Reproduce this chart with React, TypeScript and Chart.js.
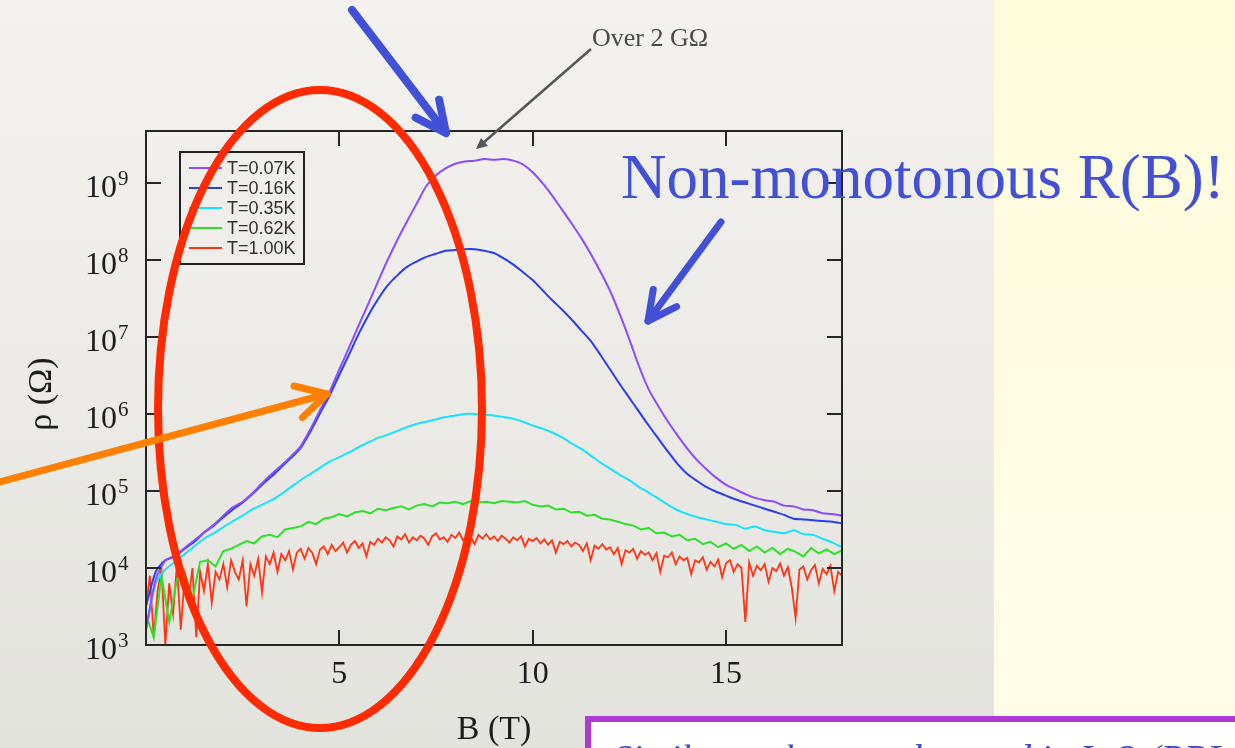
import { useEffect, useRef } from "react";
import { Chart, registerables } from "chart.js";

Chart.register(...registerables);

const W = 1235;
const H = 748;

// Magnetic field B (T) sampling grids
const fieldCoarse = [
  0, 0.25, 0.5, 0.75, 1, 1.25, 1.5, 1.75, 2, 2.25, 2.5, 2.75, 3, 3.25, 3.5, 3.75,
  4, 4.25, 4.5, 4.75, 5, 5.25, 5.5, 5.75, 6, 6.25, 6.5, 6.75, 7, 7.25, 7.5, 7.75,
  8, 8.25, 8.5, 8.75, 9, 9.25, 9.5, 9.75, 10, 10.25, 10.5, 10.75, 11, 11.25, 11.5, 11.75,
  12, 12.25, 12.5, 12.75, 13, 13.25, 13.5, 13.75, 14, 14.25, 14.5, 14.75, 15, 15.25, 15.5, 15.75,
  16, 16.25, 16.5, 16.75, 17, 17.25, 17.5, 17.75, 18,
];
const fieldFine = [
  0, 0.2, 0.4, 0.6, 0.8, 1, 1.2, 1.4, 1.6, 1.8, 2, 2.2, 2.4, 2.6, 2.8, 3, 3.2, 3.4, 3.6, 3.8,
  4, 4.2, 4.4, 4.6, 4.8, 5, 5.2, 5.4, 5.6, 5.8, 6, 6.2, 6.4, 6.6, 6.8, 7, 7.2, 7.4, 7.6, 7.8,
  8, 8.2, 8.4, 8.6, 8.8, 9, 9.2, 9.4, 9.6, 9.8, 10, 10.2, 10.4, 10.6, 10.8, 11, 11.2, 11.4, 11.6, 11.8,
  12, 12.2, 12.4, 12.6, 12.8, 13, 13.2, 13.4, 13.6, 13.8, 14, 14.2, 14.4, 14.6, 14.8, 15, 15.2, 15.4, 15.6, 15.8,
  16, 16.2, 16.4, 16.6, 16.8, 17, 17.2, 17.4, 17.6, 17.8, 18,
];
const fieldDense = [
  0, 0.1, 0.2, 0.3, 0.4, 0.5, 0.6, 0.7, 0.8, 0.9,
  1, 1.1, 1.2, 1.3, 1.4, 1.5, 1.6, 1.7, 1.8, 1.9,
  2, 2.1, 2.2, 2.3, 2.4, 2.5, 2.6, 2.7, 2.8, 2.9,
  3, 3.1, 3.2, 3.3, 3.4, 3.5, 3.6, 3.7, 3.8, 3.9,
  4, 4.1, 4.2, 4.3, 4.4, 4.5, 4.6, 4.7, 4.8, 4.9,
  5, 5.1, 5.2, 5.3, 5.4, 5.5, 5.6, 5.7, 5.8, 5.9,
  6, 6.1, 6.2, 6.3, 6.4, 6.5, 6.6, 6.7, 6.8, 6.9,
  7, 7.1, 7.2, 7.3, 7.4, 7.5, 7.6, 7.7, 7.8, 7.9,
  8, 8.1, 8.2, 8.3, 8.4, 8.5, 8.6, 8.7, 8.8, 8.9,
  9, 9.1, 9.2, 9.3, 9.4, 9.5, 9.6, 9.7, 9.8, 9.9,
  10, 10.1, 10.2, 10.3, 10.4, 10.5, 10.6, 10.7, 10.8, 10.9,
  11, 11.1, 11.2, 11.3, 11.4, 11.5, 11.6, 11.7, 11.8, 11.9,
  12, 12.1, 12.2, 12.3, 12.4, 12.5, 12.6, 12.7, 12.8, 12.9,
  13, 13.1, 13.2, 13.3, 13.4, 13.5, 13.6, 13.7, 13.8, 13.9,
  14, 14.1, 14.2, 14.3, 14.4, 14.5, 14.6, 14.7, 14.8, 14.9,
  15, 15.1, 15.2, 15.3, 15.4, 15.5, 15.6, 15.7, 15.8, 15.9,
  16, 16.1, 16.2, 16.3, 16.4, 16.5, 16.6, 16.7, 16.8, 16.9,
  17, 17.1, 17.2, 17.3, 17.4, 17.5, 17.6, 17.7, 17.8, 17.9,
  18,
];

// Resistivity as log10(ρ / Ω) for each temperature
const logRhoT007 = [
  3.2, 3.85, 4.1, 4.16, 4.26, 4.36, 4.46, 4.56, 4.68, 4.79, 4.86, 4.97, 5.1, 5.22, 5.33, 5.45,
  5.58, 5.8, 6.05, 6.29, 6.58, 6.86, 7.15, 7.43, 7.72, 8.0, 8.26, 8.5, 8.73, 8.96, 9.1, 9.19,
  9.25, 9.28, 9.29, 9.31, 9.3, 9.31, 9.29, 9.24, 9.14, 9.0, 8.84, 8.66, 8.48, 8.29, 8.08, 7.85,
  7.6, 7.3, 6.97, 6.62, 6.32, 6.1, 5.9, 5.72, 5.55, 5.4, 5.28, 5.17, 5.08, 5.02, 4.96, 4.91,
  4.88, 4.86, 4.81, 4.8, 4.76, 4.75, 4.71, 4.7, 4.68,
];
const logRhoT016 = [
  3.5, 3.95, 4.1, 4.15, 4.25, 4.34, 4.46, 4.55, 4.66, 4.76, 4.85, 4.96, 5.08, 5.19, 5.31, 5.43,
  5.56, 5.77, 6.01, 6.24, 6.51, 6.77, 7.04, 7.28, 7.49, 7.67, 7.8, 7.91, 7.98, 8.04, 8.08, 8.12,
  8.13, 8.14, 8.14, 8.12, 8.09, 8.02, 7.94, 7.84, 7.74, 7.61, 7.48, 7.36, 7.23, 7.09, 6.95, 6.77,
  6.58, 6.39, 6.21, 6.03, 5.85, 5.68, 5.51, 5.35, 5.22, 5.13, 5.05, 4.99, 4.94, 4.89, 4.85, 4.81,
  4.77, 4.73, 4.69, 4.64, 4.63, 4.62, 4.61, 4.6, 4.58,
];
const logRhoT035 = [
  3.2, 3.8, 3.98, 4.08, 4.18, 4.28, 4.38, 4.45, 4.53, 4.61, 4.68, 4.76, 4.82, 4.88, 4.96, 5.05,
  5.14, 5.22, 5.3, 5.38, 5.44, 5.5, 5.57, 5.63, 5.69, 5.73, 5.78, 5.83, 5.87, 5.9, 5.93, 5.96,
  5.98, 6.0, 6.0, 5.99, 5.98, 5.96, 5.94, 5.9, 5.85, 5.81, 5.76, 5.7, 5.62, 5.55, 5.46, 5.37,
  5.29, 5.21, 5.14, 5.05, 4.98, 4.9, 4.82, 4.75, 4.7, 4.66, 4.63, 4.6, 4.57, 4.56, 4.51, 4.54,
  4.49, 4.47, 4.45, 4.49, 4.44, 4.43, 4.38, 4.33, 4.27,
];
const logRhoT062 = [
  3.4, 3.1, 3.9, 3.3, 3.85, 3.95, 3.6, 4.08, 4.1, 4.02, 4.22, 4.25, 4.3, 4.35, 4.32, 4.41, 4.43, 4.4, 4.5, 4.52,
  4.54, 4.6, 4.57, 4.64, 4.66, 4.7, 4.67, 4.72, 4.74, 4.71, 4.77, 4.75, 4.78, 4.8, 4.76, 4.81, 4.83, 4.8, 4.85, 4.84,
  4.86, 4.83, 4.87, 4.85, 4.86, 4.84, 4.87, 4.86, 4.85, 4.87, 4.82, 4.8, 4.81, 4.76, 4.77, 4.72, 4.73, 4.68, 4.69, 4.64,
  4.63, 4.6, 4.57, 4.55, 4.5, 4.52, 4.45, 4.46, 4.41, 4.43, 4.36, 4.38, 4.31, 4.34, 4.27, 4.32, 4.25, 4.3, 4.22, 4.28,
  4.2, 4.26, 4.18, 4.25, 4.21, 4.15, 4.26, 4.19, 4.24, 4.18, 4.23,
];
const logRhoT100 = [
  3.5, 3.9, 3.1, 3.7, 4.0, 3.0, 3.8, 3.4, 4.05, 3.2,
  3.9, 3.6, 4.0, 3.1, 3.95, 3.7, 4.05, 3.55, 3.95, 3.85,
  4.05, 3.75, 4.1, 3.95, 3.85, 4.1, 3.5, 4.05, 3.9, 4.12,
  3.68, 4.15, 4.05, 4.2, 3.95, 4.18, 4.1, 4.22, 3.98, 4.2,
  4.25, 4.12, 4.26, 4.2, 4.05, 4.24, 4.28, 4.18, 4.3, 4.22,
  4.27, 4.33, 4.2, 4.3, 4.35, 4.26, 4.32, 4.15, 4.34, 4.3,
  4.38, 4.33, 4.4, 4.36, 4.28, 4.41, 4.37, 4.44, 4.33, 4.4,
  4.36, 4.42, 4.38, 4.3, 4.41, 4.45, 4.37, 4.4, 4.34, 4.43,
  4.39, 4.46, 4.36, 4.42, 4.4, 4.31, 4.43, 4.38, 4.44, 4.37,
  4.41, 4.35, 4.42, 4.38, 4.33, 4.4, 4.36, 4.41, 4.28, 4.38,
  4.35, 4.39, 4.32, 4.37, 4.3, 4.36, 4.2, 4.34, 4.31, 4.35,
  4.28, 4.33, 4.3, 4.22, 4.32, 4.1, 4.29, 4.25, 4.31, 4.24,
  4.27, 4.18, 4.26, 4.05, 4.23, 4.2, 4.25, 4.12, 4.22, 4.17,
  4.2, 4.1, 4.19, 3.95, 4.16, 4.14, 4.2, 4.05, 4.15, 4.1,
  4.13, 3.92, 4.1, 4.07, 4.14, 3.98, 4.08, 4.02, 4.11, 3.88,
  4.06, 4.1, 3.95, 4.05, 4.0, 3.3, 4.07, 3.9, 4.03, 3.97,
  4.05, 3.82, 4.0, 3.96, 4.06, 3.9, 4.01, 3.75, 3.35, 3.98,
  4.02, 3.85, 3.97, 4.04, 3.8, 3.99, 3.92, 4.03, 3.7, 3.95,
  3.9,
];

const temperatureLabels = ["T=0.07K", "T=0.16K", "T=0.35K", "T=0.62K", "T=1.00K"];
const seriesColors = ["#8b4cff", "#2a3cf0", "#18e2ff", "#2ee02a", "#ff3414"];
const decadeExponents = [3, 4, 5, 6, 7, 8, 9];
const fieldTicks = [5, 10, 15];
const rhoMin = 1e3;
const rhoMax = 4.73e9;

const SERIF = '"Liberation Serif", "Times New Roman", serif';

function toPoints(fields: number[], logs: number[]) {
  return fields.map((b, i) => ({ x: b, y: Math.pow(10, logs[i]) }));
}

function drawArrow(
  ctx: CanvasRenderingContext2D,
  x0: number, y0: number, x1: number, y1: number,
  color: string, width: number, head: number, spread: number
) {
  ctx.save();
  ctx.strokeStyle = color;
  ctx.lineWidth = width;
  ctx.lineCap = "round";
  ctx.lineJoin = "round";
  ctx.beginPath();
  ctx.moveTo(x0, y0);
  ctx.lineTo(x1, y1);
  ctx.stroke();
  const a = Math.atan2(y1 - y0, x1 - x0);
  ctx.beginPath();
  ctx.moveTo(x1 - head * Math.cos(a - spread), y1 - head * Math.sin(a - spread));
  ctx.lineTo(x1, y1);
  ctx.lineTo(x1 - head * Math.cos(a + spread), y1 - head * Math.sin(a + spread));
  ctx.stroke();
  ctx.restore();
}

const slideBackground = {
  id: "slideBackground",
  beforeDraw(chart: any) {
    const ctx = chart.ctx as CanvasRenderingContext2D;
    ctx.save();
    const g = ctx.createLinearGradient(0, 0, 0, H);
    g.addColorStop(0, "#f3f2ef");
    g.addColorStop(0.5, "#ecebe7");
    g.addColorStop(1, "#e3e3de");
    ctx.fillStyle = g;
    ctx.fillRect(0, 0, 994, H);
    const y = ctx.createLinearGradient(0, 0, 0, H);
    y.addColorStop(0, "#fffcdc");
    y.addColorStop(1, "#fffde9");
    ctx.fillStyle = y;
    ctx.fillRect(994, 0, W - 994, H);
    ctx.restore();
  },
};

const frameAndLabels = {
  id: "frameAndLabels",
  afterDatasetsDraw(chart: any) {
    const ctx = chart.ctx as CanvasRenderingContext2D;
    const a = chart.chartArea;
    const xs = chart.scales.x;
    const ys = chart.scales.y;
    ctx.save();
    ctx.strokeStyle = "#262626";
    ctx.lineWidth = 2;
    ctx.strokeRect(a.left, a.top, a.right - a.left, a.bottom - a.top);
    ctx.beginPath();
    for (const b of fieldTicks) {
      const x = Math.round(xs.getPixelForValue(b));
      ctx.moveTo(x, a.bottom);
      ctx.lineTo(x, a.bottom - 15);
      ctx.moveTo(x, a.top);
      ctx.lineTo(x, a.top + 15);
    }
    for (const e of decadeExponents) {
      const y = Math.round(ys.getPixelForValue(Math.pow(10, e)));
      ctx.moveTo(a.left, y);
      ctx.lineTo(a.left + 15, y);
      ctx.moveTo(a.right, y);
      ctx.lineTo(a.right - 15, y);
    }
    ctx.stroke();

    ctx.fillStyle = "#1c1c1c";
    ctx.textBaseline = "alphabetic";
    ctx.font = `32px ${SERIF}`;
    ctx.textAlign = "center";
    for (const b of fieldTicks) {
      ctx.fillText(String(b), xs.getPixelForValue(b), a.bottom + 38);
    }
    for (const e of decadeExponents) {
      const y = ys.getPixelForValue(Math.pow(10, e));
      ctx.font = `32px ${SERIF}`;
      ctx.textAlign = "right";
      ctx.fillText("10", a.left - 29, y + 14);
      ctx.font = `21px ${SERIF}`;
      ctx.textAlign = "left";
      ctx.fillText(String(e), a.left - 28, y + 2);
    }

    ctx.font = `34px ${SERIF}`;
    ctx.textAlign = "center";
    ctx.fillText("B (T)", (a.left + a.right) / 2, 739);
    ctx.save();
    ctx.translate(42, (a.top + a.bottom) / 2 + 6);
    ctx.rotate(-Math.PI / 2);
    ctx.textBaseline = "middle";
    ctx.fillText("ρ (Ω)", 0, 0);
    ctx.restore();
    ctx.restore();
  },
};

const legendBox = {
  id: "legendBox",
  afterDatasetsDraw(chart: any) {
    const ctx = chart.ctx as CanvasRenderingContext2D;
    const a = chart.chartArea;
    const left = a.left + 34;
    const top = a.top + 21;
    ctx.save();
    ctx.strokeStyle = "#222";
    ctx.lineWidth = 2;
    ctx.strokeRect(left, top, 124, 112);
    ctx.font = '18px "Liberation Sans", Arial, sans-serif';
    ctx.textBaseline = "middle";
    ctx.textAlign = "left";
    chart.data.datasets.forEach((ds: any, i: number) => {
      const y = top + 16 + i * 20;
      ctx.strokeStyle = ds.borderColor;
      ctx.lineWidth = 2;
      ctx.beginPath();
      ctx.moveTo(left + 9, y);
      ctx.lineTo(left + 42, y);
      ctx.stroke();
      ctx.fillStyle = "#303030";
      ctx.fillText(ds.label, left + 47, y + 1);
    });
    ctx.restore();
  },
};

const slideAnnotations = {
  id: "slideAnnotations",
  afterDraw(chart: any) {
    const ctx = chart.ctx as CanvasRenderingContext2D;
    ctx.save();

    // red ellipse around the low-field region
    ctx.strokeStyle = "#ff2a00";
    ctx.lineWidth = 8;
    ctx.beginPath();
    ctx.ellipse(320, 409, 162, 319, 0, 0, Math.PI * 2);
    ctx.stroke();

    // "Over 2 GΩ" call-out
    ctx.fillStyle = "#4a4a4a";
    ctx.font = `26px ${SERIF}`;
    ctx.textAlign = "left";
    ctx.textBaseline = "alphabetic";
    ctx.fillText("Over 2 GΩ", 592, 46);
    ctx.strokeStyle = "#555";
    ctx.lineWidth = 2.5;
    ctx.beginPath();
    ctx.moveTo(591, 49);
    ctx.lineTo(483, 143);
    ctx.stroke();
    ctx.fillStyle = "#555";
    ctx.beginPath();
    ctx.moveTo(476, 149);
    ctx.lineTo(481, 138);
    ctx.lineTo(488, 146);
    ctx.closePath();
    ctx.fill();

    // arrows
    const blue = "#4250d8";
    drawArrow(ctx, 352, 10, 446, 133, blue, 8, 34, 0.45);
    drawArrow(ctx, 721, 222, 648, 321, blue, 7, 32, 0.47);
    drawArrow(ctx, -4, 483, 327, 394, "#ff8000", 7, 34, 0.5);

    // headline
    ctx.fillStyle = blue;
    ctx.font = `63px ${SERIF}`;
    ctx.fillText("Non-monotonous R(B)!", 621, 198);

    // reference box at the bottom
    ctx.fillStyle = "#ffffff";
    ctx.fillRect(588, 719, W, 60);
    ctx.strokeStyle = "#b03ad6";
    ctx.lineWidth = 6;
    ctx.strokeRect(588, 719, W, 60);
    ctx.fillStyle = "#3a46c8";
    ctx.font = `italic 38px ${SERIF}`;
    ctx.fillText("Similar to the one observed in InO (PRL 2004)", 613, 771);

    ctx.restore();
  },
};

export default function App() {
  const canvasRef = useRef<HTMLCanvasElement>(null);

  useEffect(() => {
    const canvas = canvasRef.current;
    if (!canvas) return;
    const series = [logRhoT007, logRhoT016, logRhoT035, logRhoT062, logRhoT100];
    const grids = [fieldCoarse, fieldCoarse, fieldCoarse, fieldFine, fieldDense];
    const chart = new Chart(canvas, {
      type: "line",
      data: {
        datasets: series.map((logs, i) => ({
          label: temperatureLabels[i],
          data: toPoints(grids[i], logs),
          borderColor: seriesColors[i],
          backgroundColor: seriesColors[i],
          borderWidth: i === 4 ? 1.8 : 2,
          pointRadius: 0,
          tension: i < 3 ? 0.25 : 0,
          fill: false,
        })),
      },
      options: {
        responsive: false,
        devicePixelRatio: 1,
        animation: false,
        events: [],
        layout: { padding: { left: 0, top: 131, right: 393, bottom: 0 } },
        plugins: { legend: { display: false }, tooltip: { enabled: false } },
        scales: {
          x: {
            type: "linear",
            min: 0,
            max: 18,
            grid: { display: false },
            border: { display: false },
            ticks: { display: false },
            afterFit: (s: any) => {
              s.height = 103;
            },
          },
          y: {
            type: "logarithmic",
            min: rhoMin,
            max: rhoMax,
            grid: { display: false },
            border: { display: false },
            ticks: { display: false },
            afterFit: (s: any) => {
              s.width = 146;
            },
          },
        },
      },
      plugins: [slideBackground, frameAndLabels, legendBox, slideAnnotations],
    } as any);
    return () => chart.destroy();
  }, []);

  return (
    <div style={{ position: "absolute", left: 0, top: 0, width: W, height: H, overflow: "hidden" }}>
      <canvas ref={canvasRef} width={W} height={H} style={{ display: "block", width: W, height: H }} />
    </div>
  );
}
